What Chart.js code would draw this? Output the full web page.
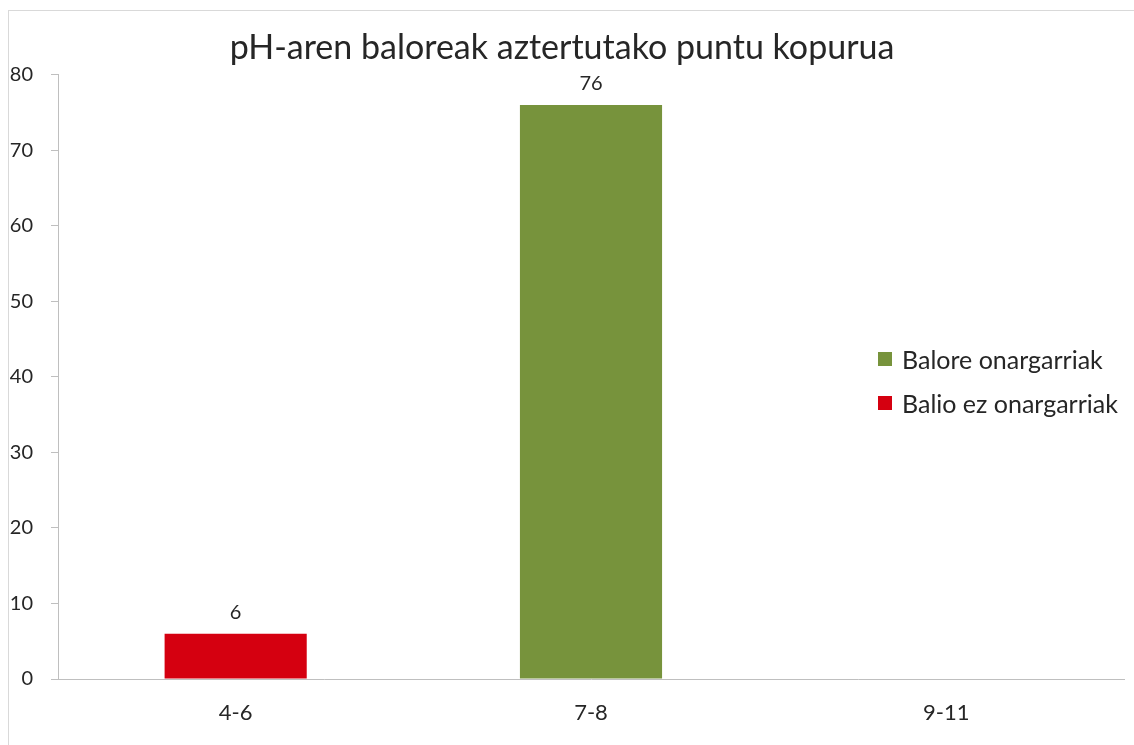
<!DOCTYPE html>
<html>
<head>
<meta charset="utf-8">
<script src="https://cdn.jsdelivr.net/npm/chart.js@4"></script>
<style>
    body { margin: 0; background: #fff; }
    #wrap { position: relative; width: 1134px; height: 745px; }
    #frame { position: absolute; left: 8px; top: 10px; right: 0; bottom: 0; border-top: 1px solid #d9d9d9; border-left: 1px solid #d9d9d9; }
    #legend { position: absolute; left: 878px; top: 344px; font-family: Lato, 'Liberation Sans', sans-serif; font-size: 25px; color: #262626; }
    #legend div { display: flex; align-items: center; height: 30px; margin-bottom: 14px; }
    #legend span.box { width: 14px; height: 14px; margin-right: 10px; display: inline-block; }
</style>
</head>
<body>
<div id="wrap">
    <div id="frame"></div>
    <canvas id="ph-chart" width="1134" height="745"></canvas>
    <div id="legend"></div>
</div>
<script>
// Chart data
const categories = ['4-6', '7-8', '9-11'];
const acceptableValues = [null, 76, null];   // Balore onargarriak
const unacceptableValues = [6, null, null];  // Balio ez onargarriak
const yTicks = [0, 10, 20, 30, 40, 50, 60, 70, 80];

const GREEN = '#77933c';
const RED = '#d50010';
const TEXT = '#262626';
const AXIS = '#bfbfbf';
const FONT = "Lato, 'Liberation Sans', sans-serif";

// Draw the value above each bar
const valueLabels = {
    id: 'valueLabels',
    afterDatasetsDraw(chart) {
        const ctx = chart.ctx;
        ctx.save();
        ctx.font = `20px ${FONT}`;
        ctx.fillStyle = TEXT;
        ctx.textAlign = 'center';
        ctx.textBaseline = 'middle';
        chart.data.datasets.forEach((ds, i) => {
            chart.getDatasetMeta(i).data.forEach((bar, j) => {
                if (ds.data[j] == null) return;
                ctx.fillText(ds.data[j], bar.x, bar.y - 21);
            });
        });
        ctx.restore();
    }
};

const chart = new Chart(document.getElementById('ph-chart'), {
    type: 'bar',
    data: {
        labels: categories,
        datasets: [
            { label: 'Balore onargarriak', data: acceptableValues, backgroundColor: GREEN },
            { label: 'Balio ez onargarriak', data: unacceptableValues, backgroundColor: RED }
        ]
    },
    options: {
        responsive: false,
        animation: false,
        layout: { padding: { left: 0, right: 10, top: 0, bottom: 0 } },
        datasets: { bar: { categoryPercentage: 1, barPercentage: 0.4 } },
        plugins: {
            legend: { display: false },
            tooltip: { enabled: false },
            title: {
                display: true,
                text: 'pH-aren baloreak aztertutako puntu kopurua',
                color: TEXT,
                font: { family: FONT, size: 34, weight: 'normal' },
                padding: { top: 28, bottom: 6 }
            }
        },
        scales: {
            x: {
                stacked: true,
                grid: { display: false, drawTicks: false },
                border: { display: true, color: AXIS },
                ticks: { color: TEXT, font: { family: FONT, size: 22 }, padding: 21 },
                afterFit(scale) { scale.height = 66; }
            },
            y: {
                stacked: true,
                min: 0,
                max: 80,
                afterBuildTicks(scale) { scale.ticks = yTicks.map(v => ({ value: v })); },
                grid: { drawOnChartArea: false, tickLength: 7, color: AXIS },
                border: { display: true, color: AXIS },
                ticks: { color: TEXT, font: { family: FONT, size: 20 }, padding: 18 },
                afterFit(scale) { scale.width = 58; }
            }
        }
    },
    plugins: [valueLabels]
});

// Legend built from the datasets
const legendEl = document.getElementById('legend');
chart.data.datasets.forEach(ds => {
    const row = document.createElement('div');
    row.innerHTML = `<span class="box" style="background:${ds.backgroundColor}"></span>${ds.label}`;
    legendEl.appendChild(row);
});
</script>
</body>
</html>
